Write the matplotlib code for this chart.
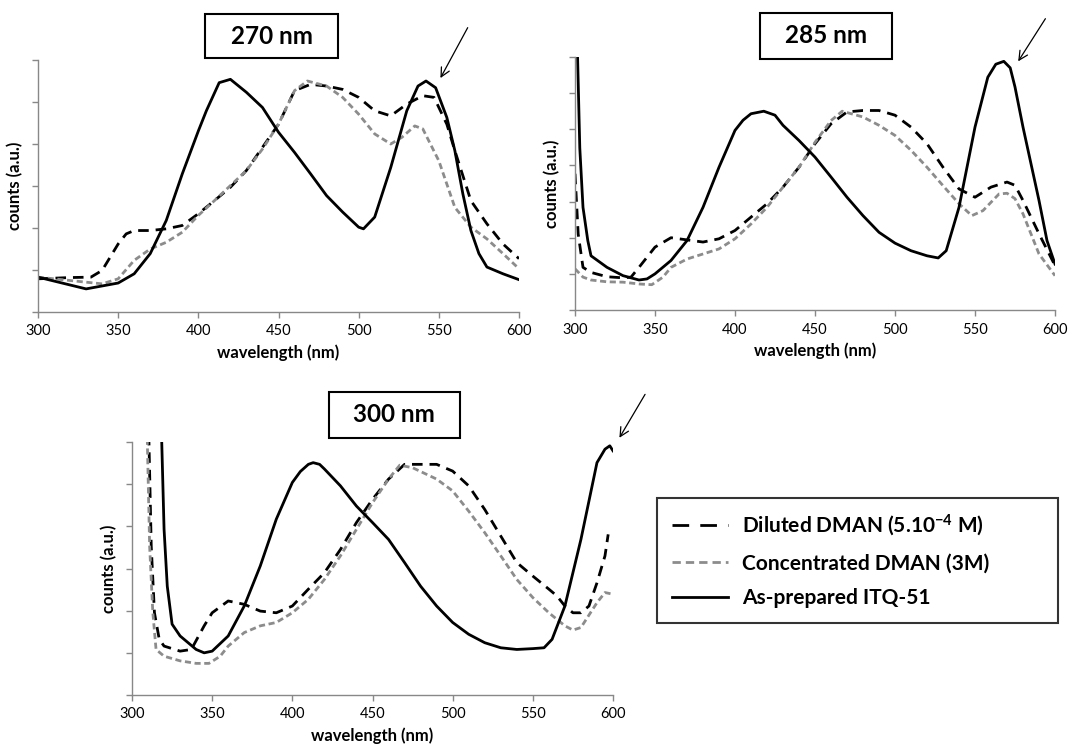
import matplotlib.pyplot as plt
from matplotlib.lines import Line2D
from matplotlib.patches import Rectangle

plt.rcParams['font.family'] = ['Lato', 'DejaVu Sans']
plt.rcParams['mathtext.fontset'] = 'custom'
plt.rcParams['mathtext.rm'] = 'Lato:bold'
plt.rcParams['mathtext.bf'] = 'Lato:bold'
plt.rcParams['mathtext.default'] = 'rm'

# ---- data (counts in arbitrary units) ----
# excitation 270 nm
wl_270_dil = [300, 320, 333, 340, 350, 355, 360, 370, 380, 390, 400, 410, 420, 430, 440, 450, 460, 470,
              480, 490, 500, 510, 520, 530, 540, 547, 555, 560, 570, 580, 590, 600]
cnt_270_dil = [0.79, 0.82, 0.83, 0.99, 1.62, 1.86, 1.94, 1.94, 1.98, 2.06, 2.34, 2.65, 2.97, 3.37, 3.92, 4.47,
               5.27, 5.42, 5.38, 5.30, 5.11, 4.79, 4.67, 4.95, 5.15, 5.11, 4.47, 3.84, 2.65, 2.10, 1.62, 1.27]
wl_270_conc = [300, 320, 340, 350, 360, 370, 380, 390, 400, 410, 420, 430, 440, 450, 460, 468, 480, 490,
               500, 510, 520, 527, 535, 540, 550, 560, 570, 580, 590, 600]
cnt_270_conc = [0.83, 0.75, 0.67, 0.79, 1.23, 1.50, 1.66, 1.90, 2.30, 2.65, 3.01, 3.37, 3.88, 4.47, 5.27, 5.50,
                5.38, 5.11, 4.71, 4.24, 4.00, 4.16, 4.43, 4.36, 3.60, 2.49, 2.02, 1.74, 1.39, 1.03]
wl_270_itq = [300, 330, 350, 360, 370, 380, 390, 400, 405, 413, 420, 430, 440, 450, 460, 470, 480, 490, 500,
              503, 510, 520, 530, 537, 542, 548, 555, 560, 565, 570, 575, 580, 590, 600]
cnt_270_itq = [0.83, 0.55, 0.69, 0.91, 1.39, 2.18, 3.29, 4.31, 4.79, 5.46, 5.54, 5.23, 4.87, 4.28, 3.80, 3.29,
               2.77, 2.38, 2.02, 1.98, 2.26, 3.44, 4.79, 5.38, 5.50, 5.34, 4.63, 3.84, 2.81, 1.94, 1.39, 1.07,
               0.91, 0.77]

# excitation 285 nm
wl_285_dil = [300, 302, 305, 310, 320, 330, 335, 340, 350, 360, 370, 380, 390, 400, 410, 420, 430, 440, 450,
              460, 470, 480, 490, 500, 510, 520, 530, 540, 550, 560, 570, 575, 580, 590, 600]
cnt_285_dil = [3.77, 2.10, 1.18, 1.04, 0.92, 0.89, 0.91, 1.18, 1.74, 2.00, 1.94, 1.88, 1.97, 2.20, 2.57, 2.94,
               3.40, 3.95, 4.60, 5.15, 5.48, 5.52, 5.52, 5.39, 5.06, 4.60, 3.95, 3.35, 3.12, 3.40, 3.54, 3.45,
               3.03, 2.11, 1.23]
wl_285_conc = [300, 305, 310, 320, 330, 340, 348, 355, 360, 370, 380, 390, 400, 410, 420, 430, 440, 450, 460,
               467, 480, 490, 500, 510, 520, 530, 540, 548, 555, 565, 570, 575, 580, 590, 600]
cnt_285_conc = [1.14, 0.91, 0.83, 0.78, 0.77, 0.72, 0.70, 0.91, 1.18, 1.41, 1.55, 1.69, 1.97, 2.38, 2.84, 3.40,
                3.95, 4.64, 5.24, 5.50, 5.34, 5.11, 4.83, 4.42, 3.95, 3.44, 2.94, 2.61, 2.75, 3.21, 3.23, 3.08,
                2.66, 1.55, 0.95]
wl_285_itq = [300.5, 301.5, 303, 305, 308, 310, 320, 330, 340, 345, 350, 360, 370, 380, 390, 400, 405, 410,
              418, 425, 430, 440, 450, 460, 470, 480, 490, 500, 510, 520, 527, 532, 540, 550, 558, 563, 568,
              572, 575, 580, 590, 595, 600]
cnt_285_itq = [9.0, 7.2, 4.48, 2.84, 1.92, 1.50, 1.18, 0.95, 0.83, 0.86, 1.00, 1.37, 1.92, 2.84, 3.95, 4.97,
               5.25, 5.43, 5.50, 5.39, 5.11, 4.69, 4.23, 3.68, 3.12, 2.61, 2.15, 1.85, 1.64, 1.50, 1.44, 1.64,
               2.84, 5.06, 6.44, 6.80, 6.88, 6.70, 6.17, 5.06, 3.03, 1.92, 1.27]

# excitation 300 nm
wl_300_dil = [310, 312, 314, 317, 320, 330, 337, 345, 350, 360, 370, 380, 390, 400, 410, 420, 430, 440, 450,
              460, 470, 480, 490, 500, 510, 520, 530, 540, 550, 560, 565, 570, 575, 580, 585, 590, 595, 597]
cnt_300_dil = [7.0, 3.53, 1.95, 1.32, 1.16, 1.04, 1.08, 1.64, 1.95, 2.23, 2.15, 1.99, 1.95, 2.11, 2.51, 2.90,
               3.45, 4.09, 4.64, 5.12, 5.47, 5.47, 5.47, 5.31, 4.96, 4.40, 3.77, 3.14, 2.82, 2.51, 2.35, 2.11,
               1.95, 1.95, 2.11, 2.66, 3.30, 3.81]
wl_300_conc = [309, 311, 313, 315, 320, 330, 340, 348, 355, 360, 370, 380, 390, 400, 410, 420, 430, 440, 450,
               460, 467, 475, 490, 500, 510, 520, 530, 540, 550, 560, 570, 575, 580, 590, 595, 600]
cnt_300_conc = [7.0, 3.53, 1.95, 1.08, 0.92, 0.81, 0.75, 0.75, 0.92, 1.16, 1.48, 1.64, 1.72, 1.95, 2.27, 2.74,
                3.30, 3.93, 4.56, 5.12, 5.45, 5.39, 5.12, 4.84, 4.36, 3.85, 3.30, 2.74, 2.31, 1.95, 1.64, 1.54,
                1.60, 2.19, 2.43, 2.39]
wl_300_itq = [317.5, 320, 322, 325, 330, 340, 345, 350, 360, 370, 380, 390, 400, 405, 410, 413, 417, 420, 430,
              440, 450, 460, 470, 480, 490, 500, 510, 520, 530, 540, 550, 557, 562, 570, 580, 590, 595, 598, 600]
cnt_300_itq = [7.5, 3.93, 2.58, 1.68, 1.40, 1.08, 1.00, 1.04, 1.40, 2.11, 3.06, 4.17, 5.04, 5.30, 5.47, 5.51,
               5.47, 5.36, 4.96, 4.48, 4.09, 3.69, 3.14, 2.58, 2.11, 1.72, 1.44, 1.24, 1.12, 1.08, 1.10, 1.12,
               1.32, 2.11, 3.69, 5.51, 5.83, 5.91, 5.79]

panels = [
    ('270 nm', wl_270_dil, cnt_270_dil, wl_270_conc, cnt_270_conc, wl_270_itq, cnt_270_itq, 6),
    ('285 nm', wl_285_dil, cnt_285_dil, wl_285_conc, cnt_285_conc, wl_285_itq, cnt_285_itq, 7),
    ('300 nm', wl_300_dil, cnt_300_dil, wl_300_conc, cnt_300_conc, wl_300_itq, cnt_300_itq, 6),
]
legend_labels = ['Diluted DMAN (5.10$^{-4}$ M)', 'Concentrated DMAN (3M)', 'As-prepared ITQ-51']

W, H = 1072, 754
# axes rectangles in pixels: left, top, right, bottom
ax_px = [(38, 60, 519, 312), (575, 57, 1055, 310), (132, 442, 613, 695)]
# title box in axes fractions: x0, x1, y0, y1
box_frac = [(0.348, 0.623, 1.007, 1.183), (0.386, 0.661, 0.993, 1.174), (0.409, 0.682, 1.017, 1.198)]
# arrow head / tail in data units
arrows = [((551, 5.57), (568, 6.77)), ((577, 6.88), (594, 8.06)), ((604, 6.10), (620, 7.13))]

axis_gray = '#888888'
dil_style = dict(color='black', lw=2.0, dashes=(3.8, 2.5))
conc_style = dict(color='#8c8c8c', lw=2.0, dashes=(2.2, 1.3))
itq_style = dict(color='black', lw=2.0)

fig = plt.figure(figsize=(W / 100, H / 100), dpi=100)

for (title, xd, yd, xc, yc, xi, yi, ymax), (l, t, r, b), bf, arr in zip(panels, ax_px, box_frac, arrows):
    ax = fig.add_axes([l / W, 1 - b / H, (r - l) / W, (b - t) / H])
    ax.plot(xd, yd, **dil_style)
    ax.plot(xc, yc, **conc_style)
    ax.plot(xi, yi, **itq_style)
    ax.set_xlim(300, 600)
    ax.set_ylim(0, ymax)
    ax.set_xticks(range(300, 601, 50))
    ax.set_yticks(range(0, ymax + 1))
    ax.set_yticklabels([])
    for s in ['top', 'right']:
        ax.spines[s].set_visible(False)
    for s in ['left', 'bottom']:
        ax.spines[s].set_color(axis_gray)
        ax.spines[s].set_linewidth(1.0)
    ax.tick_params(axis='both', colors=axis_gray, length=4, width=1.0, labelcolor='black', labelsize=10.5)
    ax.tick_params(axis='x', pad=5)
    ax.set_xlabel('wavelength (nm)', fontsize=12, fontweight='bold', labelpad=4)
    ax.set_ylabel('counts (a.u.)', fontsize=12, fontweight='bold', labelpad=3)

    x0, x1, y0, y1 = bf
    ax.add_patch(Rectangle((x0, y0), x1 - x0, y1 - y0, transform=ax.transAxes, fill=True,
                           fc='white', ec='black', lw=1.5, clip_on=False))
    ax.text((x0 + x1) / 2, (y0 + y1) / 2, title, transform=ax.transAxes, ha='center', va='center',
            fontsize=17.5, fontweight='bold')
    ax.annotate('', xy=arr[0], xytext=arr[1], annotation_clip=False,
                arrowprops=dict(arrowstyle='->', color='black', lw=0.9, mutation_scale=16,
                                shrinkA=0, shrinkB=0))

handles = [Line2D([], [], color='black', lw=2.0, dashes=(6.0, 4.0)),
           Line2D([], [], color='#8c8c8c', lw=2.0, dashes=(3.0, 1.8)),
           Line2D([], [], **itq_style)]
leg = fig.legend(handles, legend_labels, loc='center',
                 bbox_to_anchor=(657 / W, 1 - 626 / H, (1058 - 657) / W, (626 - 495) / H),
                 mode='expand', frameon=True, fancybox=False, edgecolor='black',
                 prop={'weight': 'bold', 'size': 15}, handlelength=2.7, handletextpad=0.65,
                 labelspacing=0.72, borderpad=0.72, borderaxespad=0)
leg.get_frame().set_linewidth(1.5)

fig.savefig('out.png', dpi=100)
